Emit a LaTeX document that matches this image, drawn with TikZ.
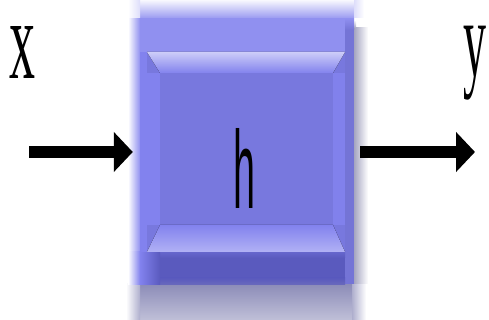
\documentclass[tikz,border=0pt]{standalone}
\usepackage{fontspec}
\setmainfont{Liberation Serif}
\newfontfamily\lsans{Liberation Sans}
\usetikzlibrary{arrows.meta,shadings}
\definecolor{bodyc}{HTML}{9090F0}
\definecolor{facec}{HTML}{7878DE}
\definecolor{sidec}{HTML}{8282EE}
\definecolor{darkc}{HTML}{5A5ABE}
\definecolor{shadc}{HTML}{8C8CB8}
\definecolor{rimc}{HTML}{7474D6}
\tikzset{
  arr/.style={line width=12pt,-{Triangle[length=19pt,width=39pt]}},
  lab/.style={inner sep=0pt,anchor=north west}
}
\begin{document}
\begin{tikzpicture}[x=1pt,y=1pt]
\useasboundingbox (0,0) rectangle (489,320);
% bottom shadow
\fill[top color=shadc,bottom color=shadc!55!white] (140,0) rectangle (352,36);
\fill[left color=white,right color=shadc!70!white] (126,0) rectangle (140,36);
\fill[left color=shadc!70!white,right color=white] (352,0) rectangle (366,36);
% right shadow
\fill[left color=shadc!90!black!70,right color=white] (354,36) rectangle (368,292);
\fill[top color=white,bottom color=shadc!90!black!70] (354,300) rectangle (356,292);
% left fade
\fill[left color=white,right color=bodyc] (128,36) rectangle (140,302);
% body
\fill[bodyc] (140,36) rectangle (354,302);
% right rim
\fill[rimc] (345,36) rectangle (354,290);
\fill[top color=bodyc,bottom color=rimc] (345,302) rectangle (354,290);
% top fade
\fill[top color=bodyc!6!white,bottom color=bodyc!90!white] (140,302) rectangle (354,320);
\fill[left color=white,right color=bodyc!30!white] (128,302) rectangle (140,320);
\fill[left color=bodyc!30!white,right color=white] (354,302) rectangle (364,320);
% dark lower part
\fill[top color=darkc!70!sidec,bottom color=darkc] (160,68) rectangle (345,62);
\fill[darkc] (160,62) rectangle (345,42);
\fill[top color=darkc,bottom color=darkc!70!shadc] (160,42) rectangle (345,35);
\fill[left color=sidec,right color=darkc] (140,35) rectangle (160,68);
\fill[left color=white,right color=sidec] (128,35) rectangle (140,68);
% face
\fill[sidec] (140,68) rectangle (147,268);
\fill[facec] (147,68) rectangle (345,268);
\fill[sidec] (147,95) rectangle (160,247);
\fill[sidec!85!facec] (333,95) rectangle (345,247);
% bevels
\fill[top color=bodyc!45!white,bottom color=sidec] (147,268) -- (345,268) -- (333,247) -- (160,247) -- cycle;
\fill[top color=sidec,bottom color=bodyc!70!white] (160,95) -- (333,95) -- (345,68) -- (147,68) -- cycle;
% invisible box for connectors
\node[draw=none,minimum width=218pt,minimum height=277pt,inner sep=0pt] (box) at (246,173.5) {};
\coordinate (xin) at (29,168);
\coordinate (yout) at (475,168);
\draw[arr,shorten >=4pt] (xin) -- (xin -| box.west);
\draw[arr,shorten <=5pt] (yout -| box.east) -- (yout);
% labels
\node[lab] (lx) at (9,294) {\resizebox{26pt}{52pt}{x}};
\node[lab] (ly) at (463,294) {\resizebox*{23pt}{74pt}{y}};
\node[lab] (lh) at (233,192) {\resizebox{22pt}{80pt}{\lsans h}};
\end{tikzpicture}
\end{document}
